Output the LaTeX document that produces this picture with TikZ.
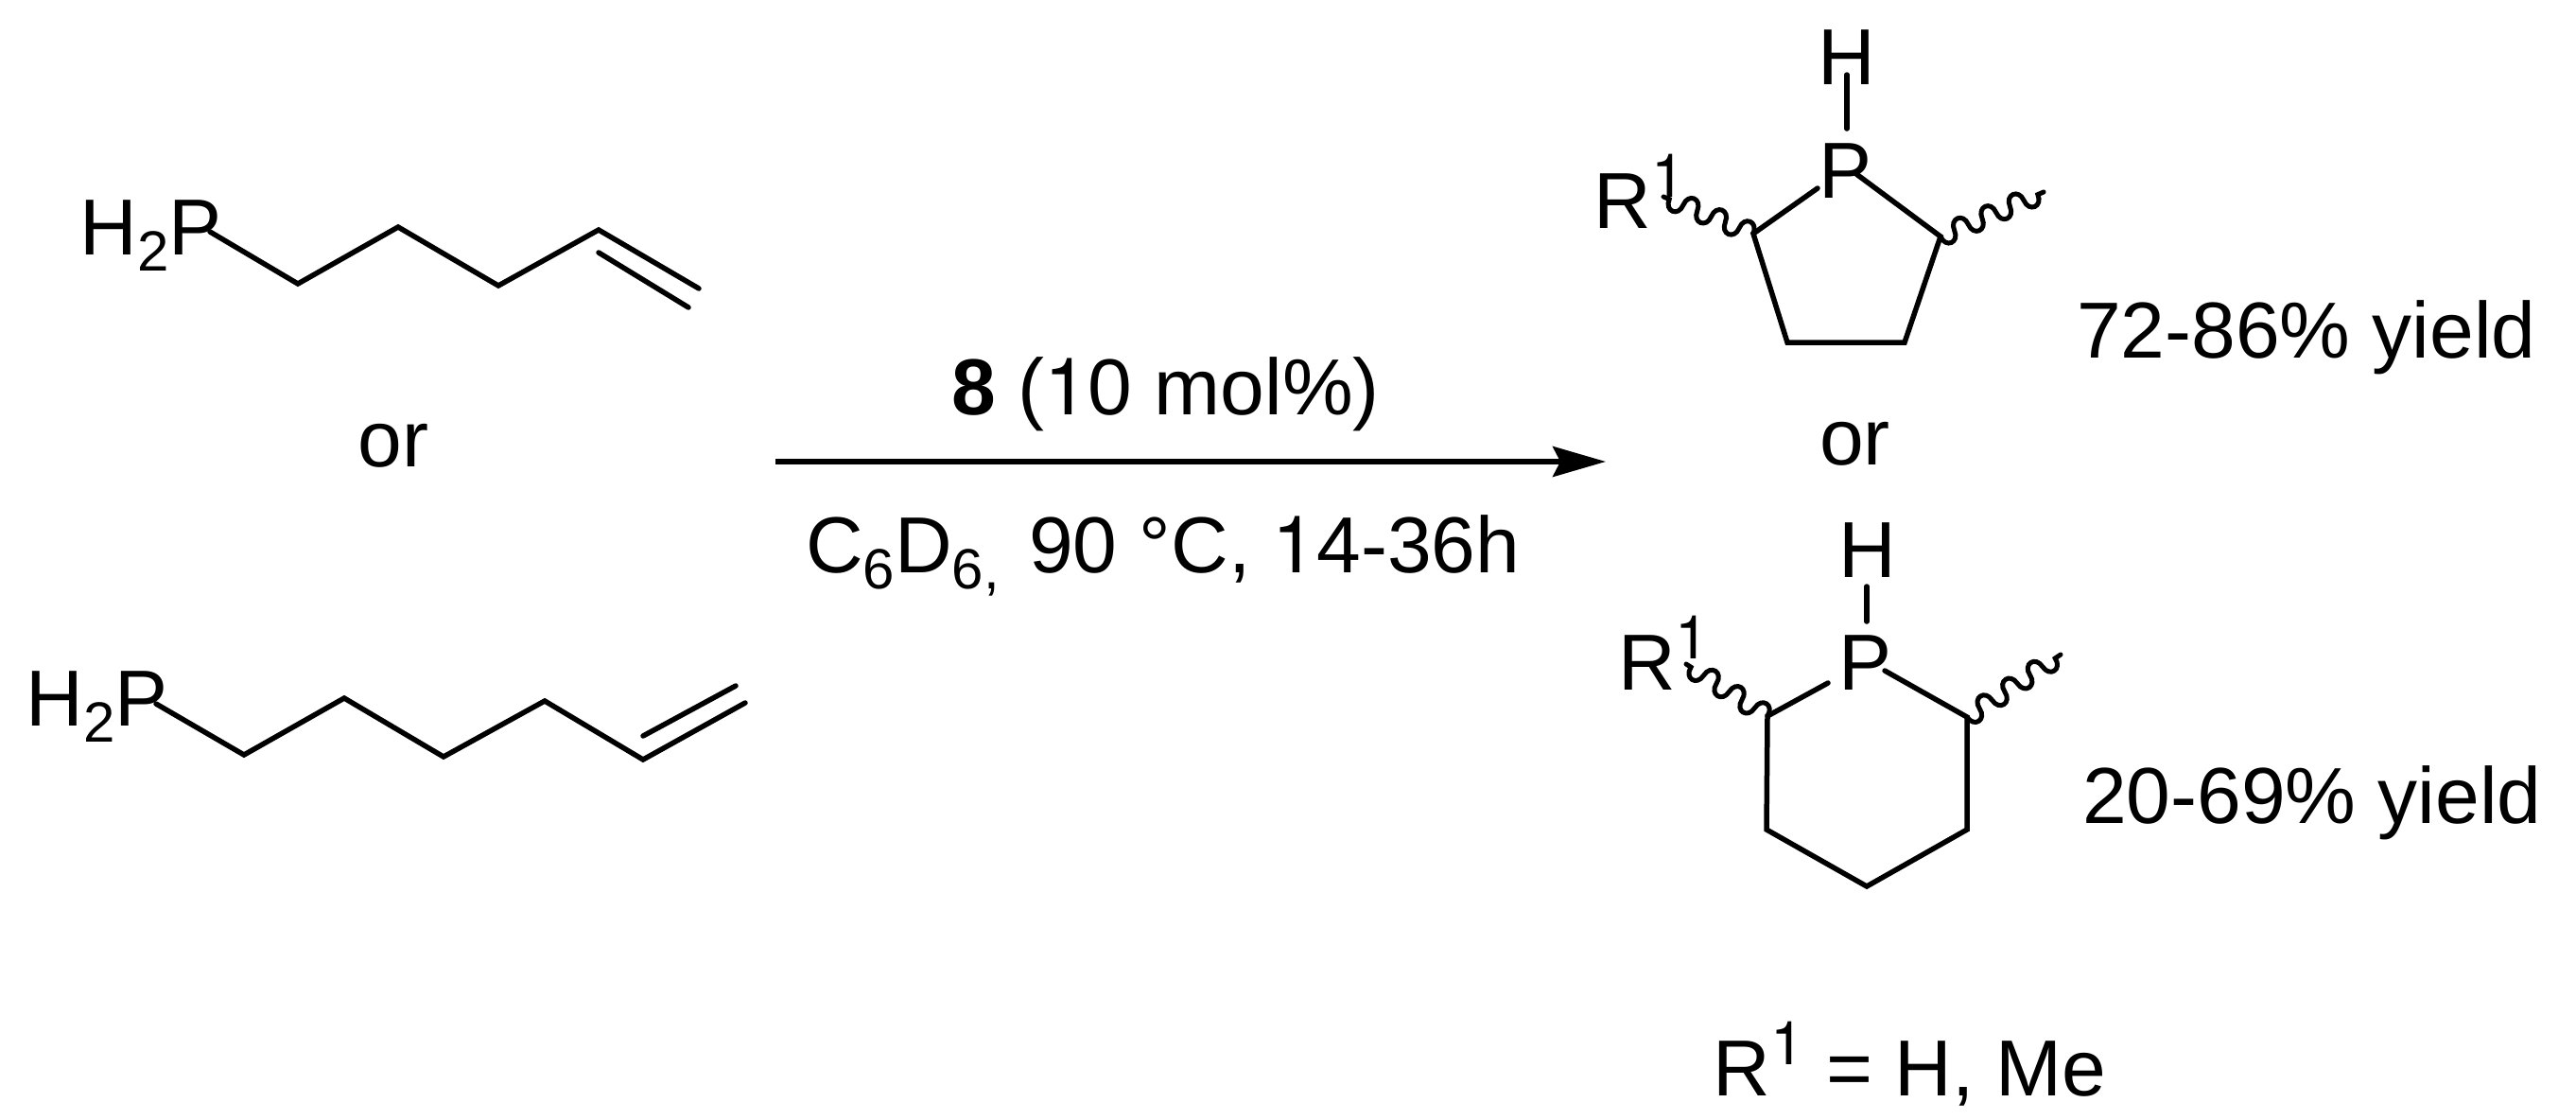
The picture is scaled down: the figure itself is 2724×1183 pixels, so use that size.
\documentclass[tikz,border=0pt]{standalone}
\usepackage{fontspec}
\setmainfont{Liberation Sans}
\newfontfamily\onefont{TeX Gyre Heros}
\usetikzlibrary{decorations,arrows.meta}
\newcommand{\chemsub}[1]{{\fontsize{60}{60}\selectfont\raisebox{-17pt}{#1}}}
\newcommand{\chemsup}[1]{{\fontsize{64}{64}\selectfont\onefont\raisebox{33pt}{#1}}}
\newcommand{\uno}{{\onefont 1}}
\pgfdeclaredecoration{lobes}{first}{
  \state{first}[switch if less than=+0.5\pgfdecorationsegmentlength to final,
                width=+0.5\pgfdecorationsegmentlength,next state=second]{
    \pgfpathcurveto{\pgfqpoint{0pt}{-1.33\pgfdecorationsegmentamplitude}}
                   {\pgfqpoint{0.5\pgfdecorationsegmentlength}{-1.33\pgfdecorationsegmentamplitude}}
                   {\pgfqpoint{0.5\pgfdecorationsegmentlength}{0pt}}
  }
  \state{second}[switch if less than=+0.5\pgfdecorationsegmentlength to final,
                 width=+0.5\pgfdecorationsegmentlength,next state=first]{
    \pgfpathcurveto{\pgfqpoint{0pt}{1.33\pgfdecorationsegmentamplitude}}
                   {\pgfqpoint{0.5\pgfdecorationsegmentlength}{1.33\pgfdecorationsegmentamplitude}}
                   {\pgfqpoint{0.5\pgfdecorationsegmentlength}{0pt}}
  }
  \state{final}{\pgfpathlineto{\pgfpointdecoratedpathlast}}
}
\tikzset{
  lbl/.style={inner sep=0pt,outer sep=0pt,anchor=base west,font=\fontsize{84}{90}\selectfont,text=black},
  bond/.style={draw=black,line width=5.5pt,line cap=round,line join=miter},
  wavy/.style={draw=black,line width=5pt,line cap=round,decorate,decoration={lobes,segment length=32pt,amplitude=10.5pt}},
  rxn/.style={draw=black,line width=5.5pt,-{Stealth[length=56pt,width=32pt,inset=8pt]}},
}
\begin{document}
\begin{tikzpicture}[x=1pt,y=-1pt]
\useasboundingbox (0,0) rectangle (2724,1183);
% labels
\node[lbl] (ha) at (84.5,269) {H\chemsub{2}P};
\node[lbl] (hb) at (27.5,767) {H\chemsub{2}P};
\node[lbl] (orl) at (378.5,493) {or};
\node[lbl] (cat) at (1006,438) {\textbf{8} (\uno0 mol\%)};
\node[lbl] (cond) at (852,605) {C\chemsub{6}D\chemsub{6}\chemsub{,}\kern8pt{} 90 °C, \uno4-36h};
\node[lbl] (r5) at (1685.5,241) {R\chemsup{1}};
\node[lbl] (p5) at (1923.5,209) {P};
\node[lbl] (h5) at (1922.5,89) {H};
\node[lbl] (orr) at (1924,491) {or};
\node[lbl] (y5) at (2196,378) {72-86\% yield};
\node[lbl] (r6) at (1711,729) {R\chemsup{1}};
\node[lbl] (p6) at (1944.5,729) {P};
\node[lbl] (h6) at (1944.5,610) {H};
\node[lbl] (y6) at (2202,870) {20-69\% yield};
\node[lbl] (def) at (1811.5,1158) {R\chemsup{1} = H, Me};
% chain 1
\coordinate (a0) at (222,245);
\coordinate (a1) at (315,300);
\coordinate (a2) at (421,240);
\coordinate (a3) at (527,302);
\coordinate (a4) at (633,243);
\coordinate (a5) at (739,305);
\coordinate (a6) at (633,267);
\coordinate (a7) at (728,325);
\draw[bond] (a0)--(a1)--(a2)--(a3)--(a4)--(a5);
\draw[bond] (a6)--(a7);
% chain 2
\coordinate (b0) at (165,744);
\coordinate (b1) at (258,798);
\coordinate (b2) at (364,738);
\coordinate (b3) at (469,800);
\coordinate (b4) at (576,741);
\coordinate (b5) at (680,803);
\coordinate (b6) at (788,743);
\coordinate (b7) at (680,778);
\coordinate (b8) at (778,725);
\draw[bond] (b0)--(b1)--(b2)--(b3)--(b4)--(b5)--(b6);
\draw[bond] (b7)--(b8);
% arrow
\coordinate (s) at (820,488);
\coordinate (e) at (1698,488);
\draw[rxn] (s)--(e);
% five ring
\coordinate (c0) at (1953,79);
\coordinate (c1) at (1953,136);
\coordinate (c2) at (1922,199);
\coordinate (c3) at (1854,247);
\coordinate (c4) at (1890,362);
\coordinate (c5) at (2014,362);
\coordinate (c6) at (2052,250);
\coordinate (c7) at (1963,184);
\coordinate (c8) at (1759,208);
\coordinate (c9) at (2161,203);
\draw[bond] (c0)--(c1);
\draw[bond] (c2)--(c3)--(c4)--(c5)--(c6)--(c7);
\draw[wavy] (c3)--(c8);
\draw[wavy] (c6)--(c9);
% six ring
\coordinate (d0) at (1974,620);
\coordinate (d1) at (1974,657);
\coordinate (d2) at (1933,722);
\coordinate (d3) at (1869,757);
\coordinate (d4) at (1868,877);
\coordinate (d5) at (1974,937);
\coordinate (d6) at (2080,877);
\coordinate (d7) at (2080,758);
\coordinate (d8) at (1993,709);
\coordinate (d9) at (1783,702);
\coordinate (d10) at (2179,692);
\draw[bond] (d0)--(d1);
\draw[bond] (d2)--(d3)--(d4)--(d5)--(d6)--(d7)--(d8);
\draw[wavy] (d3)--(d9);
\draw[wavy] (d7)--(d10);
\end{tikzpicture}
\end{document}
